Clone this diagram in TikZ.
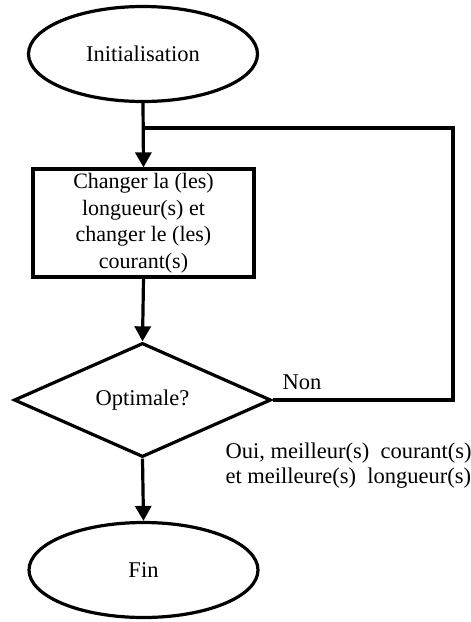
\documentclass[tikz,border=0pt]{standalone}
\usepackage{fontspec}
\setmainfont{Liberation Serif}
\usetikzlibrary{shapes.geometric,arrows.meta}
\begin{document}
\begin{tikzpicture}[x=1pt,y=-1pt,
  every node/.style={font=\fontsize{22.5}{27}\selectfont},
  shp/.style={draw=black,line width=3.2pt,inner sep=0pt},
  term/.style={shp,ellipse,minimum width=229pt,minimum height=95pt},
  procbox/.style={shp,rectangle,minimum width=221pt,minimum height=108pt,align=center,font=\fontsize{22}{26.5}\selectfont},
  decision/.style={shp,diamond,minimum width=257pt,minimum height=112pt},
  flow/.style={line width=3.2pt,-{Triangle[length=15pt,width=16pt]}},
  link/.style={line width=3.2pt,line join=miter}]
\useasboundingbox (0,0) rectangle (471,622);
\node[term] (init) at (143,54) {Initialisation};
\node[procbox] (box) at (143.5,223) {Changer la (les)\\longueur(s) et\\changer le (les)\\courant(s)};
\node[decision] (dia) at (142.5,400) {Optimale?};
\node[term] (fin) at (143.5,570) {Fin};
\coordinate (j) at (143,128);
\coordinate (r) at (453,128);
\draw[flow] (init.south) -- (box.north);
\draw[flow] (box.south) -- (dia.north);
\draw[flow] (dia.south) -- (fin.north);
\draw[link] (dia.east) -| (r) -- (j);
\node (non) at (302,382) {Non};
\node[align=left,anchor=west,font=\fontsize{22.5}{25}\selectfont] (oui) at (222,466) {Oui, meilleur(s)\ \ courant(s)\\et meilleure(s)\ \ longueur(s)};
\end{tikzpicture}
\end{document}
